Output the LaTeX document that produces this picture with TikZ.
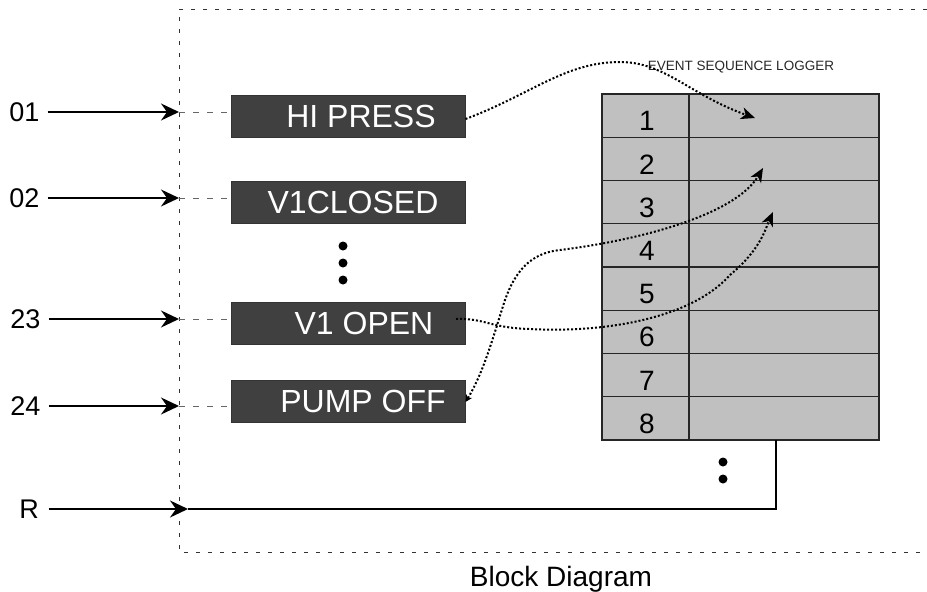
\documentclass[tikz,border=0pt]{standalone}
\usepackage{fontspec}
\setmainfont{Liberation Sans}
\usetikzlibrary{arrows.meta}
\definecolor{boxfill}{HTML}{404040}
\definecolor{tabfill}{HTML}{C0C0C0}
\begin{document}
\begin{tikzpicture}[x=1pt,y=-1pt,
  border/.style={draw=black!80,line width=0.8pt,dash pattern=on 4pt off 8pt},
  feed/.style={draw=black!60,line width=0.9pt,dash pattern=on 6pt off 8pt},
  evbox/.style={draw=black!80,fill=boxfill,line width=1pt,minimum width=234pt,minimum height=42pt,inner sep=0pt},
  evtext/.style={text=white,font=\fontsize{32}{32}\selectfont,inner sep=0pt},
  inlabel/.style={font=\fontsize{27}{27}\selectfont,inner sep=0pt},
  inarrow/.style={line width=2pt,-{Stealth[inset=6pt,length=18pt,width=17pt]}},
  numtext/.style={font=\fontsize{28}{28}\selectfont,inner sep=0pt},
  trace/.style={line width=2pt,dash pattern=on 2pt off 2pt,-{Stealth[inset=4pt,length=14pt,width=12pt]}},
  dot/.style={circle,fill=black,inner sep=0pt,minimum size=9pt}]
\useasboundingbox (0,0) rectangle (927,592);
% dashed border
\draw[border] (927,9) -- (179,9) -- (179,552) -- (927,552);
% input labels
\node[inlabel] (l1) at (24.5,112) {01};
\node[inlabel] (l2) at (24.5,198) {02};
\node[inlabel] (l3) at (25.5,319) {23};
\node[inlabel] (l4) at (25.5,406) {24};
\node[inlabel] (lr) at (29,509) {R};
\coordinate (i1) at (179,112);
\coordinate (i2) at (179,198);
\coordinate (i3) at (179,319);
\coordinate (i4) at (179,406);
\coordinate (ir) at (188,509);
% event boxes
\node[evbox] (b1) at (348,116) {};
\node[evbox] (b2) at (348,202.5) {};
\node[evbox] (b3) at (348,323.5) {};
\node[evbox] (b4) at (348,401) {};
\node[evtext] (t1) at (361,116) {HI PRESS};
\node[evtext] (t2) at (353,202.5) {V1CLOSED};
\node[evtext] (t3) at (364,323.5) {V1 OPEN};
\node[evtext] (t4) at (363,401) {PUMP OFF};
% input arrows
\draw[inarrow,shorten <=8pt] (l1.east) -- (i1);
\draw[inarrow,shorten <=8pt] (l2.east) -- (i2);
\draw[inarrow,shorten <=8pt] (l3.east) -- (i3);
\draw[inarrow,shorten <=8pt] (l4.east) -- (i4);
\draw[inarrow,shorten <=10pt] (lr.east) -- (ir);
% dashed feeds
\draw[feed] (i1) -- (b1.west |- i1);
\draw[feed] (i2) -- (b2.west |- i2);
\draw[feed] (i3) -- (b3.west |- i3);
\draw[feed] (i4) -- (b4.west |- i4);
% vertical dots
\node[dot] (d1) at (343,246) {};
\node[dot] (d2) at (343,263) {};
\node[dot] (d3) at (343,280) {};
% logger table
\node[draw=black!85,fill=tabfill,line width=1.2pt,minimum width=277pt,minimum height=346pt,inner sep=0pt] (lg) at (740.5,267) {};
\foreach \yy in {137.25,180.5,223.75,267,310.25,353.5,396.75}
  \draw[black!85,line width=1.2pt] (lg.west |- 0,\yy) -- (lg.east |- 0,\yy);
\draw[black!85,line width=1.2pt] (689,94) -- (689,440);
\foreach \n [count=\k from 0] in {1,...,8}
  \node[numtext] (n\n) at (647,{121+43.25*\k}) {\n};
\node[font=\fontsize{13.5}{13.5}\selectfont,inner sep=0pt,text=black!85] (title) at (741,67) {EVENT SEQUENCE LOGGER};
% reset line
\coordinate (rt) at (776,440);
\draw[line width=1.5pt] (ir) -| (rt);
% bottom dots
\node[dot] (e1) at (723,462) {};
\node[dot] (e2) at (723,479) {};
% traces
\coordinate (p1) at (755,118);
\coordinate (p2) at (763,168);
\coordinate (p3) at (773,212);
\draw[trace] (b1.east |- 0,119) .. controls (530,95) and (565,62) .. (620,62)
   .. controls (665,62) and (690,95) .. (p1);
\draw[trace,{Stealth[length=7pt,width=7pt,inset=2pt]}-{Stealth[inset=4pt,length=14pt,width=12pt]}] (b4.east |- 0,402) .. controls (485,370) and (495,330) .. (505,300)
   .. controls (515,272) and (530,253) .. (560,250)
   .. controls (640,240) and (735,215) .. (p2);
\draw[trace] (456,319) .. controls (485,318) and (490,328) .. (530,329)
   .. controls (600,333) and (690,320) .. (730,275)
   .. controls (760,250) and (765,230) .. (p3);
% caption
\node[font=\fontsize{28}{28}\selectfont,inner sep=0pt,anchor=base] (cap) at (561,586) {Block Diagram};
\end{tikzpicture}
\end{document}
